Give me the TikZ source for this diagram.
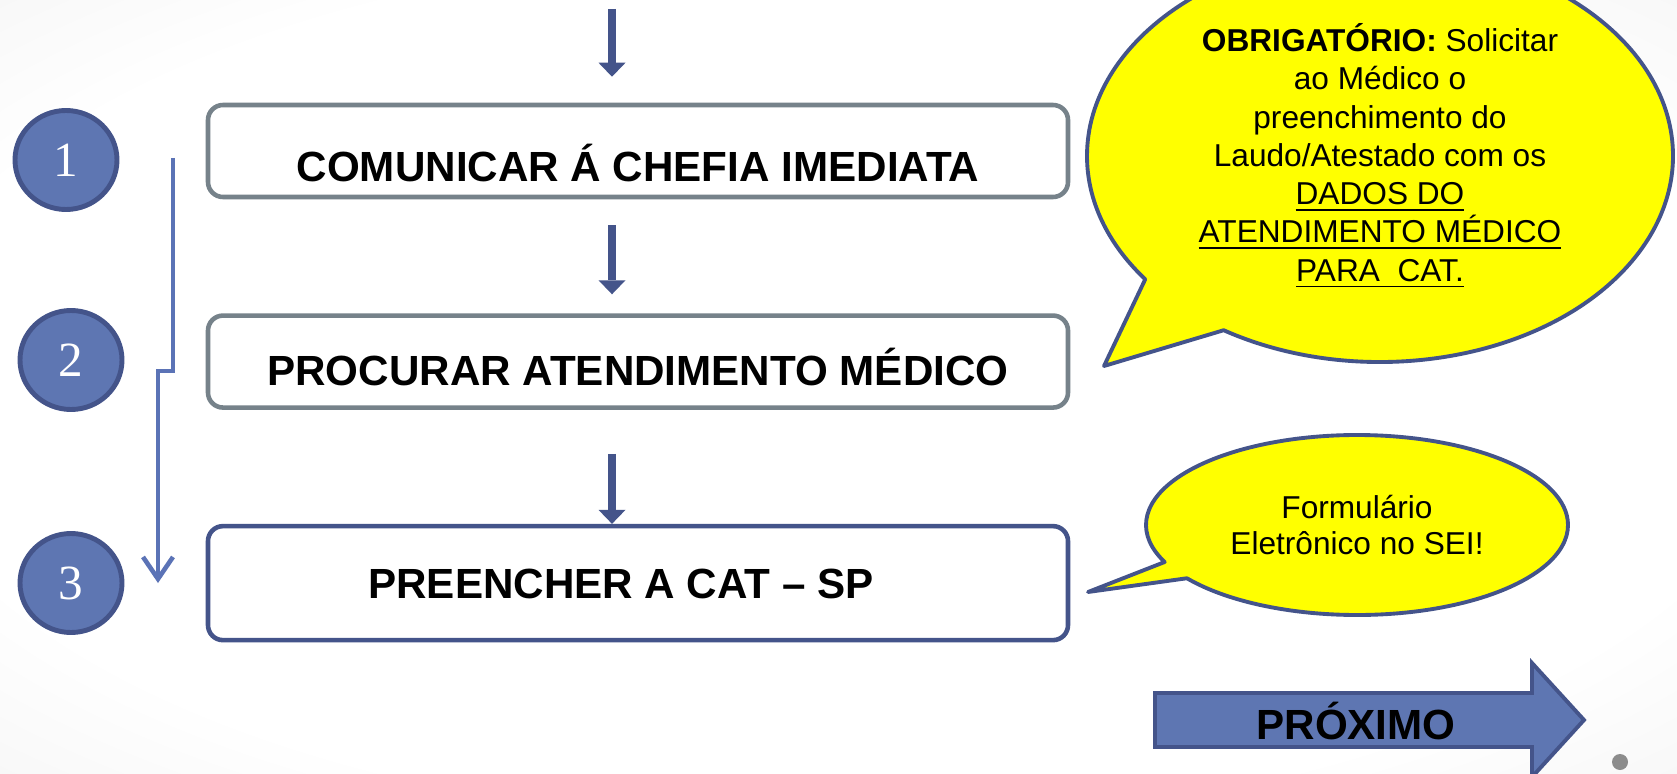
\documentclass[tikz,border=0pt]{standalone}
\usepackage{fontspec}
\setmainfont{Liberation Sans}
\newfontfamily\numfont{Liberation Serif}
\usetikzlibrary{shapes,shapes.callouts,arrows.meta,positioning,calc}
\definecolor{slateblue}{RGB}{94,118,178}
\definecolor{darkslate}{RGB}{68,84,138}
\definecolor{boxgray}{RGB}{118,130,138}
\definecolor{linkblue}{RGB}{91,115,182}
\definecolor{balloonyellow}{RGB}{255,255,0}
\pgfdeclareradialshading{bgshade}{\pgfpoint{0bp}{0bp}}{color(0bp)=(white); color(28bp)=(white); color(50bp)=(black!8); color(72bp)=(black!20)}

\begin{document}
\begin{tikzpicture}[node distance=1.14cm,
	stepbox/.style={rectangle, rounded corners=0.15cm, draw=boxgray, line width=1.3pt, fill=white, minimum width=8.6cm, minimum height=0.92cm, font=\bfseries\fontsize{12}{14}\selectfont, text depth=0pt},
	stepnum/.style={ellipse, draw=darkslate, line width=1.4pt, fill=slateblue, minimum width=1.02cm, minimum height=0.99cm, text=white, font=\numfont\fontsize{14}{16}\selectfont},
	flowarrow/.style={draw=darkslate, line width=2.5pt, -{Triangle[width=0.27cm,length=0.14cm,line width=0pt]}},
	balloon/.style={ellipse callout, draw=darkslate, line width=1.1pt, line join=round, fill=balloonyellow, align=center}
]
	\path[use as bounding box] (0,0) rectangle (16.77,7.73);
	\clip (0,0) rectangle (16.77,7.73);
	\shade[shading=bgshade] (0,0) rectangle (16.77,7.73);

	% etapas
	\node[stepbox, text height=0.62cm] (chefia) at (6.38,6.22) {COMUNICAR Á CHEFIA IMEDIATA};
	\node[stepbox, text height=0.48cm, below=of chefia] (medico) {PROCURAR ATENDIMENTO MÉDICO};
	\node[stepbox, text height=0.30cm, draw=darkslate, fill=none, minimum height=1.14cm, below=of medico] (cat) {PREENCHER A CAT – SP\hspace*{0.34cm}};

	\node[stepnum] (um) at (0.66,6.13) {1};
	\node[stepnum] (dois) at (0.71,4.13) {2};
	\node[stepnum] (tres) at (0.71,1.90) {3};

	\coordinate (inicio) at (6.12,7.64);
	\draw[flowarrow, shorten >=0.26cm] (inicio) -- (inicio |- chefia.north);
	\draw[flowarrow, shorten <=0.26cm, shorten >=0.19cm] (chefia.south -| inicio) -- (medico.north -| inicio);
	\draw[flowarrow, shorten <=0.44cm] (medico.south -| inicio) -- (cat.north -| inicio);

	\coordinate (brtop) at (1.73,6.15);
	\coordinate (brmid) at (1.73,4.02);
	\coordinate (brend) at (1.58,1.90);
	\draw[draw=linkblue, line width=1.3pt, -{Straight Barb[length=0.22cm,width=0.3cm]}] (brtop) -- (brmid) -| (brend);

	% baloes
	\node[balloon, minimum width=5.86cm, minimum height=4.12cm, font=\fontsize{9}{10.9}\selectfont, callout absolute pointer={(11.04,4.07)}, callout pointer arc=21] (aviso) at (13.80,6.17) {\textbf{OBRIGATÓRIO:} Solicitar\\ao Médico o\\preenchimento do\\Laudo/Atestado com os\\\underline{DADOS DO}\\\underline{ATENDIMENTO MÉDICO}\\\underline{PARA~ CAT.}};
	\node[balloon, minimum width=4.22cm, minimum height=1.80cm, font=\fontsize{9}{10.2}\selectfont, callout absolute pointer={(10.88,1.81)}, callout pointer arc=12] (sei) at (13.57,2.48) {Formulário\\Eletrônico no SEI!};

	% proximo
	\draw[draw=darkslate, line width=1.1pt, fill=slateblue] (11.55,0.26) -- (15.32,0.26) -- (15.32,-0.04) -- (15.84,0.53) -- (15.32,1.10) -- (15.32,0.80) -- (11.55,0.80) -- cycle;
	\node[font=\bfseries\fontsize{12}{14}\selectfont] (proximo) at (13.56,0.52) {PRÓXIMO};

	\fill[black!45] (16.20,0.11) circle (0.08);
\end{tikzpicture}
\end{document}
